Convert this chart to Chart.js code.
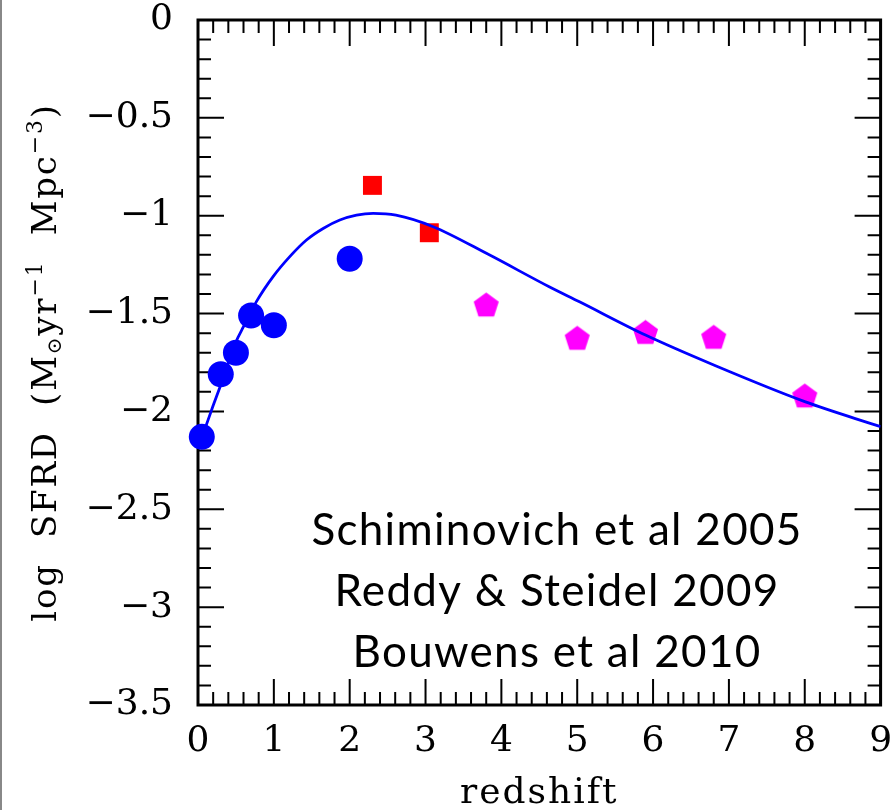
<!DOCTYPE html>
<html>
<head>
<meta charset="utf-8">
<script src="https://cdn.jsdelivr.net/npm/chart.js@4.4.1/dist/chart.umd.min.js"></script>
<style>
body{margin:0;background:#fff;}
canvas{display:block;}
</style>
</head>
<body>
<canvas id="sfrd" width="894" height="810"></canvas>
<script>
// Schiminovich et al 2005 (blue circles)
const galexZ = [0.05, 0.3, 0.5, 0.7, 1.0, 2.0];
const galexSfrd = [-2.13, -1.81, -1.70, -1.51, -1.56, -1.22];
// Reddy & Steidel 2009 (red squares)
const reddyZ = [2.3, 3.05];
const reddySfrd = [-0.845, -1.087];
// Bouwens et al 2010 (magenta pentagons)
const bouwensZ = [3.8, 5.0, 5.9, 6.8, 8.0];
const bouwensSfrd = [-1.46, -1.63, -1.60, -1.625, -1.925];
// fitted curve
const fitZ = [0, 0.1, 0.2, 0.3, 0.5, 0.6, 0.77, 0.99, 1.21, 1.43, 1.65, 1.87, 2.09, 2.31, 2.61, 3.1, 3.84, 4.63, 5.03, 5.9, 6.8, 8.0, 9.0];
const fitSfrd = [-2.19, -2.08, -1.97, -1.865, -1.645, -1.567, -1.439, -1.311, -1.209, -1.124, -1.065, -1.022, -0.997, -0.988, -0.997, -1.056, -1.20, -1.363, -1.44, -1.61, -1.763, -1.95, -2.078];

const xTicks = [0, 1, 2, 3, 4, 5, 6, 7, 8, 9];
const yTicks = [0, -0.5, -1, -1.5, -2, -2.5, -3, -3.5];
const refLines = ["Schiminovich et al 2005", "Reddy & Steidel 2009", "Bouwens et al 2010"];

function pts(xs, ys){
    return xs.map((x,i)=>({x:x, y:ys[i]}));
}

function pentagon(r, color){
    const c = document.createElement("canvas");
    const s = Math.ceil(r*2)+2;
    c.width = s; c.height = s;
    const g = c.getContext("2d");
    g.fillStyle = color;
    g.beginPath();
    for(let i=0;i<5;i++){
        const a = -Math.PI/2 + i*2*Math.PI/5;
        const px = s/2 + r*Math.cos(a), py = s/2 + r*Math.sin(a);
        if(i) g.lineTo(px,py); else g.moveTo(px,py);
    }
    g.closePath();
    g.fill();
    return c;
}

// box + inward ticks on all four sides
const frame = {
    id:"frame",
    beforeDatasetsDraw(chart){
        const {ctx, chartArea:a, scales:{x,y}} = chart;
        ctx.save();
        ctx.fillStyle = "#888";
        ctx.fillRect(0,0,2,chart.height);
        ctx.strokeStyle = "#000";
        ctx.lineWidth = 2;
        ctx.beginPath();
        for(let i=0;i<=45;i++){
            const px = x.getPixelForValue(i*0.2);
            const len = i%5===0 ? 26 : 13;
            ctx.moveTo(px,a.bottom); ctx.lineTo(px,a.bottom-len);
            ctx.moveTo(px,a.top); ctx.lineTo(px,a.top+len);
        }
        for(let i=0;i<=35;i++){
            const py = y.getPixelForValue(-i*0.1);
            const len = i%5===0 ? 26 : 13;
            ctx.moveTo(a.left,py); ctx.lineTo(a.left+len,py);
            ctx.moveTo(a.right,py); ctx.lineTo(a.right-len,py);
        }
        ctx.stroke();
        ctx.lineWidth = 3;
        ctx.strokeRect(a.left,a.top,a.right-a.left,a.bottom-a.top);
        ctx.restore();
    }
};

const texts = {
    id:"texts",
    afterDraw(chart){
        const {ctx, chartArea:a} = chart;
        ctx.save();
        ctx.fillStyle = "#000";

        // reference list
        ctx.font = "44px Lato";
        ctx.letterSpacing = "1.3px";
        ctx.textAlign = "center";
        ctx.textBaseline = "alphabetic";
        refLines.forEach((t,i)=>ctx.fillText(t, 557, 545 + i*61));

        // x title
        ctx.font = "36px 'DejaVu Serif'";
        ctx.letterSpacing = "2px";
        ctx.fillText("redshift", (a.left+a.right)/2, 803);

        // y title with sub/superscripts
        const parts = [
            ["log  SFRD  (M", 34, 0],
            ["\u2299", 20, 5],
            ["yr", 34, 0],
            ["\u22121", 22, -14],
            ["  Mpc", 34, 0],
            ["\u22123", 22, -14],
            [")", 34, 0]
        ];
        ctx.letterSpacing = "1.8px";
        ctx.textAlign = "left";
        let total = 0;
        parts.forEach(p=>{
            ctx.font = p[1]+"px 'DejaVu Serif'";
            p.push(ctx.measureText(p[0]).width);
            total += p[3];
        });
        ctx.translate(56,(a.top+a.bottom)/2);
        ctx.rotate(-Math.PI/2);
        let cx = -total/2;
        parts.forEach(p=>{
            ctx.font = p[1]+"px 'DejaVu Serif'";
            ctx.fillText(p[0], cx, p[2]);
            cx += p[3];
        });
        ctx.restore();
    }
};

const tickFont = {family:"'DejaVu Serif'", size:36};

new Chart(document.getElementById("sfrd"), {
    type:"scatter",
    data:{
        datasets:[
            {
                type:"line",
                data:pts(fitZ,fitSfrd),
                borderColor:"#0000ff",
                borderWidth:2.8,
                pointRadius:0,
                cubicInterpolationMode:"monotone",
                fill:false
            },
            {
                data:pts(galexZ,galexSfrd),
                pointStyle:"circle",
                pointRadius:13,
                backgroundColor:"#0000ff",
                borderWidth:0,
                clip:false
            },
            {
                data:pts(reddyZ,reddySfrd),
                pointStyle:"rect",
                pointRadius:13.4,
                backgroundColor:"#ff0000",
                borderWidth:0,
                clip:false
            },
            {
                data:pts(bouwensZ,bouwensSfrd),
                pointStyle:pentagon(13.2,"#ff00ff"),
                borderWidth:0,
                clip:false
            }
        ]
    },
    options:{
        responsive:false,
        animation:false,
        devicePixelRatio:1,
        layout:{padding:{left:0,top:20,right:12,bottom:0}},
        plugins:{legend:{display:false}, tooltip:{enabled:false}},
        scales:{
            x:{
                type:"linear", min:0, max:9,
                afterBuildTicks(s){ s.ticks = xTicks.map(v=>({value:v})); },
                afterFit(s){ s.height = 105; s.paddingLeft = 0; s.paddingRight = 0; },
                grid:{display:false, drawTicks:false, tickLength:0},
                border:{display:false},
                ticks:{padding:15, color:"#000", font:tickFont, maxRotation:0, autoSkip:false}
            },
            y:{
                type:"linear", min:-3.5, max:0,
                afterBuildTicks(s){ s.ticks = yTicks.map(v=>({value:v})); },
                afterFit(s){ s.width = 198; s.paddingTop = 0; s.paddingBottom = 0; },
                grid:{display:false, drawTicks:false, tickLength:0},
                border:{display:false},
                ticks:{padding:25, color:"#000", font:tickFont, autoSkip:false,
                    callback:v=>String(v).replace("-","\u2212")}
            }
        }
    },
    plugins:[frame, texts]
});
</script>
</body>
</html>
